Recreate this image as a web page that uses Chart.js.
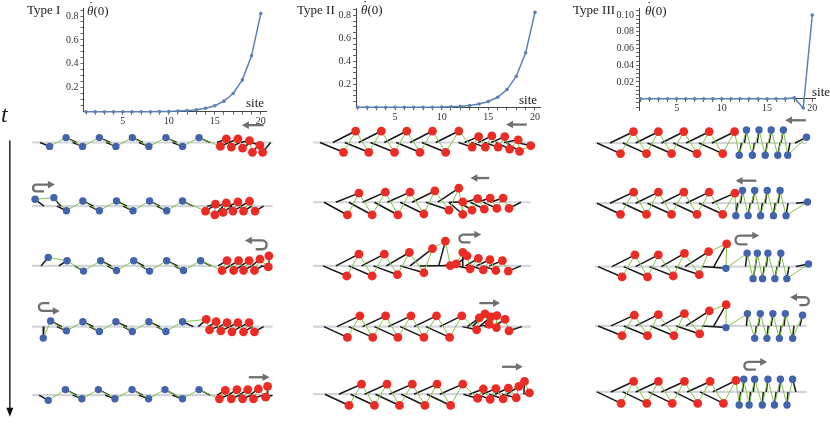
<!DOCTYPE html>
<html>
<head>
<meta charset="utf-8">
<script src="https://cdn.jsdelivr.net/npm/chart.js@4.4.1/dist/chart.umd.min.js"></script>
<style>
html, body { margin: 0; padding: 0; background: #fff; }
#wrap { position: relative; width: 830px; height: 427px; overflow: hidden; font-family: "Liberation Serif", "DejaVu Serif", serif; color: #222; }
.box { position: absolute; }
.lbl { position: absolute; white-space: nowrap; line-height: 1; font-size: 13px; }
.th { position: relative; font-style: italic; }
.th .dot { position: absolute; left: 2px; top: -4px; font-style: normal; }
</style>
</head>
<body>
<div id="wrap">
  <div class="box" style="left:0;top:0;width:830px;height:427px"><canvas id="chains"></canvas></div>
  <div class="box" style="left:40px;top:0;width:232px;height:130px"><canvas id="plotI"></canvas></div>
  <div class="box" style="left:316px;top:0;width:230px;height:126px"><canvas id="plotII"></canvas></div>
  <div class="box" style="left:600px;top:0;width:222px;height:124px"><canvas id="plotIII"></canvas></div>

  <div class="lbl" style="left:27px;top:3px">Type I</div>
  <div class="lbl" style="left:87px;top:4px"><span class="th">θ<span class="dot">˙</span></span>(0)</div>
  <div class="lbl" style="left:246px;top:96px">site</div>
  <div class="lbl" style="left:297px;top:3px">Type II</div>
  <div class="lbl" style="left:361px;top:3px"><span class="th">θ<span class="dot">˙</span></span>(0)</div>
  <div class="lbl" style="left:519px;top:93px">site</div>
  <div class="lbl" style="left:573px;top:3px">Type III</div>
  <div class="lbl" style="left:645px;top:4px"><span class="th">θ<span class="dot">˙</span></span>(0)</div>
  <div class="lbl" style="left:812px;top:85px">site</div>
  <div class="lbl" style="left:1px;top:102px;font-size:24px;font-style:italic">t</div>
</div>

<script>
// ---- plot data ----
const sites = [1, 2, 3, 4, 5, 6, 7, 8, 9, 10, 11, 12, 13, 14, 15, 16, 17, 18, 19, 20];
const siteLabels = [5, 10, 15, 20];
const thetaTypeI = [0, 0, 0, 0, 0, 0, 0, 0, 0.001, 0.002, 0.005, 0.009, 0.016, 0.029, 0.05, 0.088, 0.152, 0.266, 0.467, 0.82];
const thetaTypeII = [0, 0, 0, 0, 0, 0, 0, 0, 0.001, 0.002, 0.005, 0.009, 0.016, 0.029, 0.05, 0.087, 0.154, 0.27, 0.473, 0.825];
const thetaTypeIII = [0, 0, 0, 0, 0, 0, 0, 0, 0, 0, 0, 0, 0, 0, 0, 0, 0, 0.001, -0.011, 0.1];
const yLabelsI = [0.2, 0.4, 0.6, 0.8];
const yLabelsIII = [0.02, 0.04, 0.06, 0.08, 0.10];

// ---- chain snapshots: [mass x, mass y, pivot x on the rail] ----
const baseI = [141, 206, 267, 329, 399];
const baseII = [141, 202, 267, 329, 398];
const baseIII = [141.5, 203, 267.7, 328.3, 395.7];
const spanI = [28, 271];
const spanII = [312, 532];
const spanIII = [597, 811];

const chainI1 = [[45.7,145,36],[62.3,136,73],[79,145,69],[96,136,107],[112.7,145,103],[129.3,136,140],[146,145,136],[163.3,136,174],[180,145,170],[196.7,136,208],
  [218.3,145,227],[224.3,137.3,215],[229.3,145.7,238],[236,137.3,227],[240.7,146.7,249],[247.7,139,239],[250.7,151,259],[258.3,144,250],[261,151,269]];
const chainI2 = [[31,199,40],[50,197.3,57],[62.7,210.7,53],[79.3,200.7,90],[96,210.7,86],[113.3,200.7,124],[130,210.7,120],[146.7,200.7,157],[164,210.7,154],[180,200.7,191],
  [203.3,211,211],[212.7,215,221],[213.3,204,205],[221,212.3,230],[224.3,202.7,216],[231,211,240],[236,201.7,227],[241.7,211,250],[247.7,201,239],[253.3,211,262]];
const chainI3 = [[44.3,258.3,37],[63.3,261.7,55],[80,272.3,71],[97.3,261.7,108],[113.3,271.7,104],[130.7,261.7,141],[146.7,272.3,138],[164,261.7,175],[181,271.7,172],[198.3,261.7,209],
  [220,271.7,228],[225,261.7,216],[231.7,271.7,240],[236.7,261.7,228],[241.7,271.7,250],[247.3,261.7,239],[252.7,271.7,261],[258.3,260,250],[266.7,268,259],[267.3,256.7,267]];
const chainI4 = [[39.3,340.7,40],[46.7,323.3,58],[62.7,333.3,53],[79.3,324,90],[96,334,86],[112.7,324,124],[129.3,334,120],[146,324,157],[163.3,334,154],[180,324,191],
  [204,321.7,196],[207.3,332.3,216],[214,324,206],[218.7,333.3,228],[225,325,217],[230,334.3,239],[236,325,228],[241.7,334.3,251],[247.3,325,239],[252.7,334.3,262]];
const chainI5 = [[44.3,404.3,35],[61.7,393.3,73],[78.3,402.7,69],[95,393.3,106],[111.7,402.7,102],[129,393.3,140],[145.7,402.7,136],[162.3,393.3,173],[180,402.7,170],[196.7,393.3,208],
  [217.3,402.7,226],[223.3,394,215],[229.3,402.7,238],[235,393.3,226],[240.7,402.7,250],[246,393.3,237],[251.7,402.7,261],[256.7,392.7,248],[264,401,271],[266,390,266]];

const chainII1 = [[342.7,151,319],[355,129.3,332],[368.3,151,344],[381,129.3,358],[394.3,151,370],[406.7,129.3,384],[420,151,396],[432.7,129.3,410],[446,151,422],[459.3,129.3,436],
  [472.7,145.7,459],[479.3,135,465],[486,145.7,472],[492.7,134.3,479],[499,145.7,485],[505.7,135,492],[510.7,147.7,497],[519.3,138.3,505],[520.7,150,507],[532,144.3,518]];
const chainII2 = [[346.7,215,323],[358.3,192.7,335],[371.7,215,348],[385,191.7,362],[397.7,215,374],[410,191.7,387],[424,214,400],[435,190.5,412],[449.3,210,426],[459.3,187.7,438],
  [463.3,214.3,449],[463.3,201.7,450],[472.7,210,459],[478.3,198.3,465],[485,209,471],[491,197.7,478],[497.7,208.3,484],[504,197.7,491],[510,208.3,522]];
const chainII3 = [[346,277.3,322],[358.3,255,335],[371.7,277.3,348],[384,255,361],[397.3,276,373],[409.3,253.3,386],[424,274,400],[432.7,249.3,410],[445.7,241.7,439],[450.7,266.7,420],
  [456.7,265,441],[463.3,253.3,463],[467.7,256.7,455],[470.7,270,457],[479,259.3,466],[484,271,471],[490.7,260.7,477],[496.7,271.7,484],[503.3,261.7,490],[509.3,272.3,522]];
const chainII4 = [[346.7,340,323],[359.3,318,336],[372.3,340,348],[385.3,318,362],[397.7,340,374],[411,318,388],[424,340,400],[436.7,318,414],[450,340,426],[462.3,318,440],
  [477.3,332.3,463],[480,320,468],[485.7,316,473],[490,326.7,478],[491.7,319,480],[497.7,317.7,486],[497.3,330,485],[506,321.7,494],[510,333.3,523]];
const chainII5 = [[348.3,409.5,324],[361,387.7,338],[374,409.5,350],[386.7,387.7,364],[399.3,409.5,375],[412.3,387.7,389],[425,409.5,401],[437.3,387.7,414],[451,409.5,427],[463.3,387.7,440],
  [478.3,402.3,464],[484,392.7,470],[491,403.3,477],[496.7,392.3,483],[504,402.7,490],[509.3,391.7,496],[517.3,401.7,503],[520,390,508],[525.7,385,525],[530.7,396.7,526]];

const chainIII1 = [[622.7,152.3,599],[635.7,130,612],[649,152.3,625],[661,130,638],[674.3,152.3,650],[686.7,130,664],[700,152.3,676],[712.3,130,689],[726,152.3,702],[738,130,715],
  [742.7,154,745],[750,128.3,748],[756,154,758],[762.7,128.3,761],[769,154,771],[775,128.3,773],[781.7,154,784],[787.3,128.3,785],[791.7,154,794],[810.7,135.7,799]];
const chainIII2 = [[622.7,214.3,599],[636,191.7,612],[649,214.3,625],[661,191.7,638],[674.3,214.3,650],[686.7,191.7,664],[700,214.3,676],[712.3,191.7,689],[726,214.3,702],[738.3,192.7,715],
  [739.3,215.7,741],[746,190,744],[751.7,215.7,754],[758.3,190,756],[764.3,215.7,766],[771,190,769],[777.3,215.7,779],[784,190,782],[790,215.7,792],[811.7,201.7,800]];
const chainIII3 = [[624.3,278.3,600],[637.3,255.7,614],[650,278.3,626],[661,255.7,638],[676,277.3,652],[687.3,254.3,664],[702.3,276,678],[711.7,252.5,688],[730,244.5,717],
  [729.3,269.5,705],[750.7,254,749],[756.7,280,759],[761,254,759],[766.3,280,768],[771.7,254,770],[778.7,280,781],[784.7,254,783],[790.8,280,793],[812.7,265,800]];
const chainIII4 = [[624.3,338.3,600],[636.7,317.3,613],[650,338.3,626],[661,316.7,638],[676.7,338.3,653],[687.3,315.7,664],[702.7,336.5,679],[712.5,313,689],[729.5,306.5,717],
  [729.3,330,705],[751,315.7,750],[758.3,341,760],[764,315.7,762],[770.7,341,772],[776.7,315.7,775],[783.3,341,785],[789.3,315.7,788],[796.7,341,798],[806.7,317.3,804]];
const chainIII5 = [[623.3,407.3,599],[636,385,613],[649.3,407.3,625],[661,385,638],[675,407.3,651],[687.3,385,664],[700.7,407.3,677],[713.3,385,690],[726.7,407.3,703],[739.3,384,716],
  [742.7,409,744],[747.3,382.7,746],[752.7,409,754],[758.3,382.7,757],[766,409,767],[771.7,382.7,770],[778.3,409,780],[784.3,382.7,783],[791,409,792],[796.7,382.7,800]];

// mass kind per chain: B = blue, R = red
const kindsI = ['BBBBBBBBBBRRRRRRRRR', 'BBBBBBBBBBRRRRRRRRRR', 'BBBBBBBBBBRRRRRRRRRR', 'BBBBBBBBBBRRRRRRRRRR', 'BBBBBBBBBBRRRRRRRRRR'];
const kindsII = ['RRRRRRRRRRRRRRRRRRRR', 'RRRRRRRRRRRRRRRRRRR', 'RRRRRRRRRRRRRRRRRRRR', 'RRRRRRRRRRRRRRRRRRR', 'RRRRRRRRRRRRRRRRRRRR'];
const kindsIII = ['RRRRRRRRRRBBBBBBBBBB', 'RRRRRRRRRRBBBBBBBBBB', 'RRRRRRRRRBBBBBBBBBB', 'RRRRRRRRRBBBBBBBBBB', 'RRRRRRRRRRBBBBBBBBBB'];

// grey motion arrows: [tail x, head x, y]
const straightArrows = [[262,240,123.3],[247,268,380.7],[528,507,122.7],[490,471,177.3],[480,501,305],[503,524,370],[810,789,118.3],[760,739,180]];
// u-turn arrows: [bend x, tip x, arrow arm y, other arm y]
const uTurnArrows = [[29,51,184,191],[265,243,241,250],[35,56,313,305],[460,482,235,243],[739,763,236,245],[813,794,299,307],[748,771,365,373]];
// time axis: [x, top y, tip y]
const timeAxis = [5.5, 139, 421];

// ---- styles ----
const lineBlue = '#5E81B5';
const massBlue = '#4264AE';
const massRed = '#EC2B25';
const springGreen = '#82C545';
const rotorBlack = '#171717';
const railGrey = '#D4D5DB';
const arrowGrey = '#6F6F6F';
const serif = '"Liberation Serif", "DejaVu Serif", serif';

Chart.defaults.font.family = serif;

function makePlot(id, values, o) {
  new Chart(document.getElementById(id), {
    type: 'line',
    data: {
      datasets: [{
        data: sites.map((s, i) => ({ x: s, y: values[i] })),
        borderColor: lineBlue,
        backgroundColor: lineBlue,
        borderWidth: 1.5,
        pointRadius: 1.8,
        pointBorderWidth: 0,
        tension: 0,
        clip: false
      }]
    },
    options: {
      responsive: true,
      maintainAspectRatio: false,
      animation: false,
      events: [],
      plugins: { legend: { display: false }, tooltip: { enabled: false } },
      layout: { padding: { top: o.padTop, right: o.padRight, bottom: o.padBottom || 0, left: 0 } },
      scales: {
        x: {
          type: 'linear',
          min: o.xMin,
          max: o.xMax,
          position: o.xPos || 'bottom',
          afterBuildTicks: s => { s.ticks = sites.map(v => ({ value: v })); },
          afterFit: s => { if (o.xH) s.height = o.xH; },
          grid: { display: true, drawOnChartArea: false, tickLength: 3, color: '#666' },
          border: { display: true, color: '#444', width: 1 },
          ticks: {
            autoSkip: false, maxRotation: 0, padding: 1,
            color: '#333', font: { size: 10 },
            callback: v => siteLabels.includes(v) ? String(v) : ''
          }
        },
        y: {
          type: 'linear',
          min: o.yMin,
          max: o.yMax,
          afterBuildTicks: s => {
            const t = [];
            for (let v = o.minorFrom; v <= o.yMax + 1e-9; v += o.minorStep) t.push({ value: +v.toFixed(4) });
            s.ticks = t;
          },
          afterFit: s => { s.width = o.yW; },
          grid: { display: true, drawOnChartArea: false, tickLength: 3, color: '#666' },
          border: { display: true, color: '#444', width: 1 },
          ticks: {
            autoSkip: false, padding: 2,
            color: '#333', font: { size: 10 },
            callback: v => o.labels.some(l => Math.abs(l - v) < 1e-6) ? v.toFixed(o.decimals) : ''
          }
        }
      }
    }
  });
}

makePlot('plotI', thetaTypeI, {
  xMin: 0.728, xMax: 20.57, yMin: 0, yMax: 0.867, yW: 43.5, xH: 18.3,
  padTop: 5, padRight: 6, minorFrom: 0.05, minorStep: 0.05, labels: yLabelsI, decimals: 1
});
makePlot('plotII', thetaTypeII, {
  xMin: 0.818, xMax: 20.54, yMin: 0, yMax: 0.863, yW: 40, xH: 18.7,
  padTop: 1, padRight: 6, minorFrom: 0.05, minorStep: 0.05, labels: yLabelsI, decimals: 1
});
makePlot('plotIII', thetaTypeIII, {
  xMin: 0.834, xMax: 20.3, yMin: -0.01345, yMax: 0.1084, yW: 39,
  padTop: 4, padRight: 7, padBottom: 14, xPos: { y: 0 },
  minorFrom: -0.01, minorStep: 0.005, labels: yLabelsIII, decimals: 2
});

// ---- chain illustration ----
const columns = [
  { snaps: [chainI1, chainI2, chainI3, chainI4, chainI5], kinds: kindsI, bases: baseI, span: spanI },
  { snaps: [chainII1, chainII2, chainII3, chainII4, chainII5], kinds: kindsII, bases: baseII, span: spanII },
  { snaps: [chainIII1, chainIII2, chainIII3, chainIII4, chainIII5], kinds: kindsIII, bases: baseIII, span: spanIII }
];

const railPts = [], rotorPts = [], springPts = [], massPts = [], massColors = [], massRadius = [];
columns.forEach(col => col.snaps.forEach((snap, k) => {
  const y0 = col.bases[k];
  railPts.push({ x: col.span[0], y: y0 }, { x: col.span[1], y: y0 }, { x: col.span[1], y: null });
  snap.forEach((m, i) => {
    rotorPts.push({ x: m[2], y: y0 }, { x: m[0], y: m[1] }, { x: m[0], y: null });
    springPts.push({ x: m[0], y: m[1] });
    massPts.push({ x: m[0], y: m[1] });
    const isBlue = col.kinds[k][i] === 'B';
    massColors.push(isBlue ? massBlue : massRed);
    massRadius.push(isBlue ? 3.7 : 4.4);
  });
  springPts.push({ x: snap[snap.length - 1][0], y: null });
}));

function arrowHead(ctx, x, y, dx, dy, len, half) {
  ctx.beginPath();
  ctx.moveTo(x, y);
  ctx.lineTo(x - dx * len - dy * half, y - dy * len + dx * half);
  ctx.lineTo(x - dx * len + dy * half, y - dy * len - dx * half);
  ctx.closePath();
  ctx.fill();
}

const arrowPlugin = {
  id: 'arrows',
  afterDatasetsDraw(chart) {
    const ctx = chart.ctx;
    const X = v => chart.scales.x.getPixelForValue(v);
    const Y = v => chart.scales.y.getPixelForValue(v);
    ctx.save();

    // time axis
    ctx.strokeStyle = '#111';
    ctx.fillStyle = '#111';
    ctx.lineWidth = 1.4;
    ctx.beginPath();
    ctx.moveTo(X(timeAxis[0]), Y(timeAxis[1]));
    ctx.lineTo(X(timeAxis[0]), Y(timeAxis[2]) - 6);
    ctx.stroke();
    arrowHead(ctx, X(timeAxis[0]), Y(timeAxis[2]), 0, 1, 9, 3.5);

    ctx.strokeStyle = arrowGrey;
    ctx.fillStyle = arrowGrey;
    ctx.lineWidth = 2.3;
    straightArrows.forEach(a => {
      const dir = Math.sign(a[1] - a[0]);
      ctx.beginPath();
      ctx.moveTo(X(a[0]), Y(a[2]));
      ctx.lineTo(X(a[1]) - dir * 5, Y(a[2]));
      ctx.stroke();
      arrowHead(ctx, X(a[1]), Y(a[2]), dir, 0, 7, 3.8);
    });

    uTurnArrows.forEach(a => {
      const dir = Math.sign(a[1] - a[0]);
      const bx = X(a[0]), tx = X(a[1]), ya = Y(a[2]), yo = Y(a[3]);
      const r = Math.abs(yo - ya) / 2;
      const len = Math.abs(tx - bx);
      ctx.beginPath();
      ctx.moveTo(tx - dir * 5, ya);
      ctx.lineTo(bx + dir * r, ya);
      ctx.bezierCurveTo(bx - dir * r * 0.35, ya, bx - dir * r * 0.35, yo, bx + dir * r, yo);
      ctx.lineTo(bx + dir * len * 0.5, yo);
      ctx.stroke();
      arrowHead(ctx, tx, ya, dir, 0, 7, 3.8);
    });
    ctx.restore();
  }
};

new Chart(document.getElementById('chains'), {
  type: 'scatter',
  data: {
    datasets: [
      { data: railPts, showLine: true, borderColor: railGrey, borderWidth: 2.2, pointRadius: 0, order: 4, clip: false },
      { data: rotorPts, showLine: true, borderColor: rotorBlack, borderWidth: 1.5, pointRadius: 0, order: 3, clip: false },
      { data: springPts, showLine: true, borderColor: springGreen, borderWidth: 1, pointRadius: 0, order: 2, clip: false },
      { data: massPts, showLine: false, pointRadius: massRadius, pointBackgroundColor: massColors, pointBorderWidth: 0, order: 1, clip: false }
    ]
  },
  options: {
    responsive: true,
    maintainAspectRatio: false,
    animation: false,
    events: [],
    layout: { padding: 0 },
    plugins: { legend: { display: false }, tooltip: { enabled: false } },
    scales: {
      x: { type: 'linear', min: 0, max: 830, display: false },
      y: { type: 'linear', min: 0, max: 427, reverse: true, display: false }
    }
  },
  plugins: [arrowPlugin]
});
</script>
</body>
</html>
